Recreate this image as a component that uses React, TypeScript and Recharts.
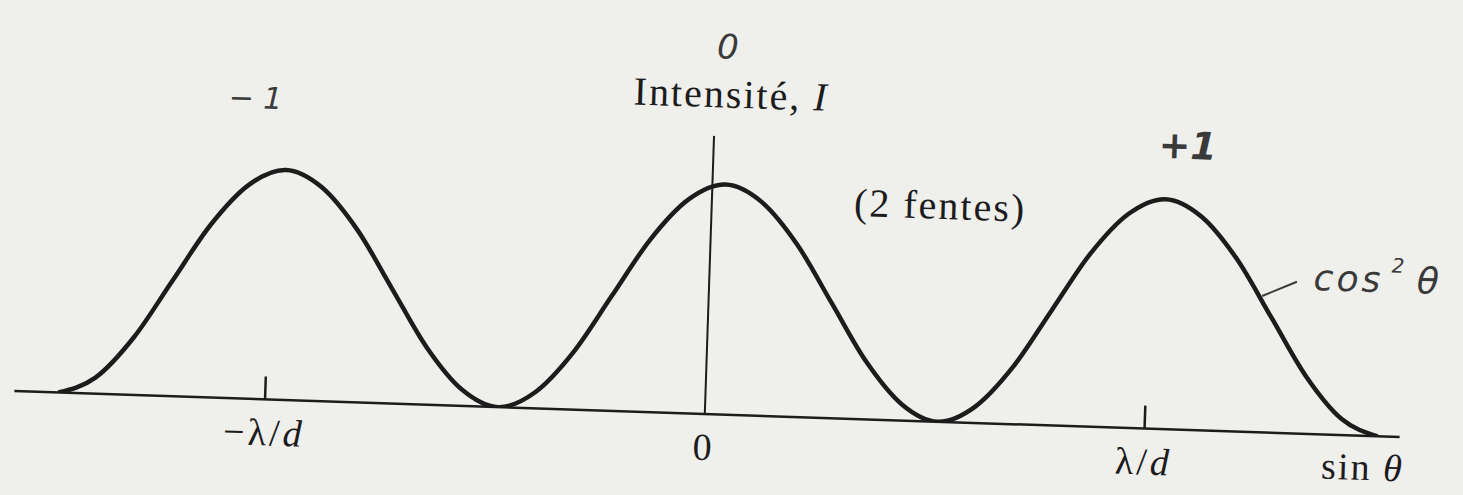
import {
  LineChart,
  Line,
  XAxis,
  YAxis,
  ReferenceLine,
  ReferenceDot,
} from "recharts";

// sin θ, in units of λ/d, where the two-slit intensity is sampled
const sinTheta = [
  -1.47, -1.387, -1.303, -1.22, -1.137, -1.053, -0.97, -0.887, -0.803, -0.72,
  -0.637, -0.553, -0.47, -0.387, -0.303, -0.22, -0.137, -0.053, 0.03, 0.113,
  0.197, 0.28, 0.363, 0.447, 0.53, 0.613, 0.697, 0.78, 0.863, 0.947, 1.03,
  1.113, 1.197, 1.28, 1.363, 1.447, 1.53,
];

// relative intensity I (peak = 1)
const intensity = [
  0, 0.07, 0.25, 0.5, 0.75, 0.93, 1, 0.93, 0.75, 0.5, 0.25, 0.07, 0,
  0.07, 0.25, 0.5, 0.75, 0.93, 1, 0.93, 0.75, 0.5, 0.25, 0.07, 0,
  0.07, 0.25, 0.5, 0.75, 0.93, 1, 0.93, 0.75, 0.5, 0.25, 0.07, 0,
];

const tickValues = [-1, 0, 1];
const tickLabels = ["−λ/d", "0", "λ/d"];

// interference order written above each maximum
const orderLabels = ["− 1", "0", "+1"];

const data = sinTheta.map((x, i) => ({ x, intensity: intensity[i] }));

const INK = "#1c1c1c";
const PENCIL = "#3a3a3a";
const SERIF = "'Liberation Serif', 'Times New Roman', serif";
const HAND = "'DejaVu Sans', sans-serif";

function SinTick({ x, y, payload }: any) {
  const label = tickLabels[tickValues.indexOf(payload.value)] ?? "";
  const hasD = label.endsWith("d");
  return (
    <text
      x={x}
      y={y + 46}
      textAnchor="middle"
      fontFamily={SERIF}
      fontSize={38}
      letterSpacing={3}
      fill={INK}
    >
      {hasD ? label.slice(0, -1) : label}
      {hasD && <tspan fontStyle="italic">d</tspan>}
    </text>
  );
}

// text placed at a data point, drawn as the dot's shape
function note(
  key: string,
  x: number,
  y: number,
  content: React.ReactNode,
  style: React.SVGProps<SVGTextElement>
) {
  return (
    <ReferenceDot
      key={key}
      x={x}
      y={y}
      r={0}
      ifOverflow="visible"
      shape={(p: any) => (
        <text x={p.cx} y={p.cy} {...style}>
          {content}
        </text>
      )}
    />
  );
}

const printed = {
  fontFamily: SERIF,
  fontSize: 40,
  letterSpacing: 2,
  fill: INK,
  textAnchor: "middle" as const,
};

const hand = {
  fontFamily: HAND,
  fontStyle: "italic",
  fontSize: 32,
  fill: PENCIL,
  textAnchor: "middle" as const,
  dominantBaseline: "central" as const,
};

export default function App() {
  return (
    <div
      style={{
        position: "absolute",
        left: 0,
        top: 0,
        width: 1463,
        height: 495,
        background: "#efefec",
        overflow: "hidden",
      }}
    >
      {/* the whole figure sits slightly askew on the page */}
      <div
        style={{
          width: 1463,
          height: 495,
          transform: "rotate(1.9deg)",
          transformOrigin: "705px 414px",
        }}
      >
        <LineChart
          width={1463}
          height={495}
          data={data}
          margin={{ top: 11.5, right: 63, bottom: 31, left: 14 }}
        >
          <XAxis
            dataKey="x"
            type="number"
            domain={[-1.57, 1.58]}
            allowDataOverflow
            ticks={tickValues}
            interval={0}
            tickLine={false}
            tickSize={0}
            tickMargin={0}
            height={50}
            axisLine={{ stroke: INK, strokeWidth: 2.5 }}
            tick={<SinTick />}
          />
          <YAxis type="number" domain={[0, 1.75]} allowDataOverflow hide width={0} />

          {/* intensity axis */}
          <ReferenceLine
            segment={[
              { x: 0, y: 0 },
              { x: 0, y: 1.21 },
            ]}
            stroke={INK}
            strokeWidth={2}
            ifOverflow="visible"
          />
          {/* short upward ticks at ±λ/d */}
          {tickValues
            .filter((v) => v !== 0)
            .map((v) => (
              <ReferenceLine
                key={v}
                segment={[
                  { x: v, y: 0 },
                  { x: v, y: 0.1 },
                ]}
                stroke={INK}
                strokeWidth={2.5}
              />
            ))}
          {/* pointer to the cos² label */}
          <ReferenceLine
            segment={[
              { x: 1.257, y: 0.593 },
              { x: 1.335, y: 0.66 },
            ]}
            stroke={PENCIL}
            strokeWidth={2}
          />

          <Line
            type="monotone"
            dataKey="intensity"
            stroke={INK}
            strokeWidth={4.5}
            dot={false}
            activeDot={false}
            isAnimationActive={false}
          />

          {note("title", 0.036, 1.335, (
            <>
              Intensité, <tspan fontStyle="italic">I</tspan>
            </>
          ), printed)}
          {note("slits", 0.519, 0.882, "(2 fentes)", printed)}
          {note("axis", 1.498, -0.192, (
            <>
              sin <tspan fontStyle="italic">θ</tspan>
            </>
          ), { ...printed, fontSize: 38 })}

          {note("order-1", -1.044, 1.309, orderLabels[0], { ...hand, fontSize: 30 })}
          {note("order0", 0.025, 1.6, orderLabels[1], { ...hand, fontSize: 34 })}
          {note("order1", 1.077, 1.235, orderLabels[2], { ...hand, fontSize: 38, fontWeight: 700 })}
          {note("cos2", 1.373, 0.627, (
            <>
              cos
              <tspan dx={8} dy={-20} fontSize={20}>2</tspan>
              <tspan dx={10} dy={20}>θ</tspan>
            </>
          ), { ...hand, fontSize: 36, textAnchor: "start", dominantBaseline: "auto", letterSpacing: 3 })}
        </LineChart>
      </div>
    </div>
  );
}
